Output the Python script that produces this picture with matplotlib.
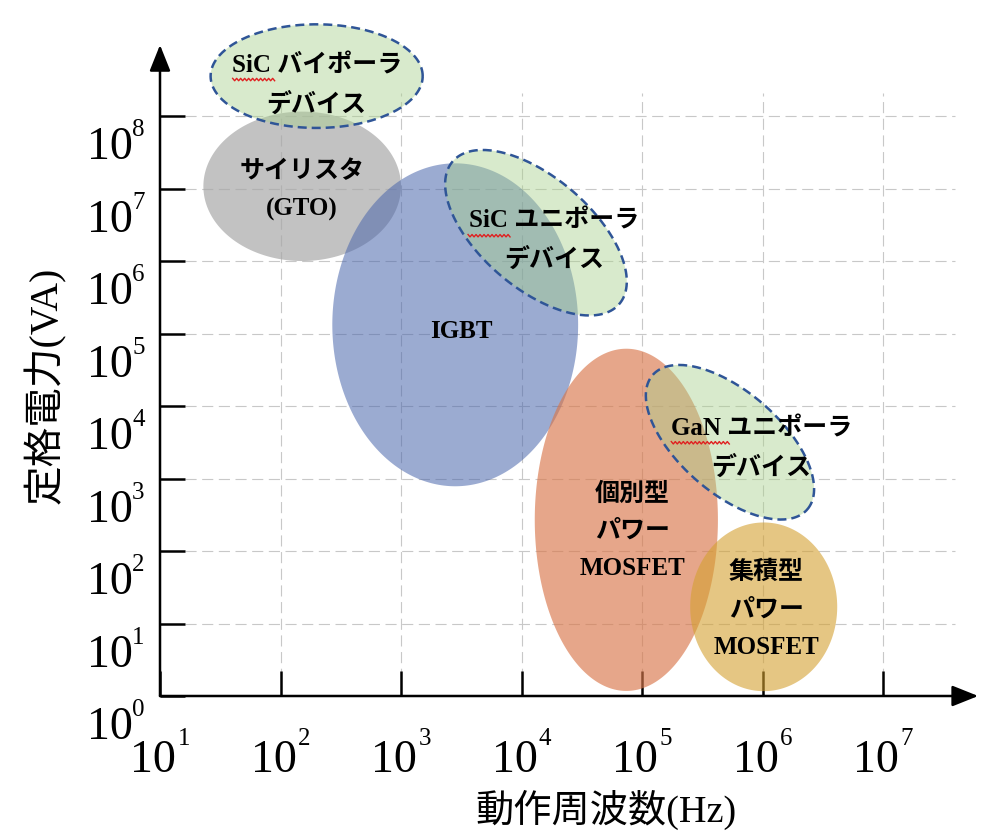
import numpy as np
import matplotlib
matplotlib.use("Agg")
import matplotlib.pyplot as plt
from matplotlib.patches import Polygon
from matplotlib.transforms import IdentityTransform, ScaledTranslation

plt.rcParams['font.family'] = ['Liberation Serif', 'Noto Sans CJK JP', 'DejaVu Sans']

# device regions, all in decades: log10(Hz), log10(VA)
# semi axes a, b are in "x-decade" units so that tilted shapes keep their look
devices = ['gto', 'igbt', 'discrete', 'integrated', 'sic_uni', 'gan_uni', 'sic_bi']
center_f = [2.18, 3.45, 4.87, 6.01, 4.12, 5.73, 2.30]
center_p = [7.03, 5.12, 2.43, 1.23, 6.39, 3.50, 8.55]
semi_a = [0.82, 1.02, 0.76, 0.61, 0.91, 0.85, 0.88]
semi_b = [0.62, 1.34, 1.42, 0.70, 0.46, 0.42, 0.43]
tilt = [0, 0, 0, 0, -40.5, -41, 0]

labels = ['サイリスタ\n(GTO)', 'IGBT', '個別型\nパワー\nMOSFET', '集積型\nパワー\nMOSFET',
          'SiC ユニポーラ\nデバイス', 'GaN ユニポーラ\nデバイス', 'SiC バイポーラ\nデバイス']
label_f = [2.18, 3.50, 4.92, 6.03, 4.27, 5.99, 2.30]
label_p = [6.97, 5.03, 2.27, 1.19, 6.28, 3.41, 8.42]

x_ticks = [1, 2, 3, 4, 5, 6, 7]
y_ticks = [0, 1, 2, 3, 4, 5, 6, 7, 8]

fills = {'gto': ('#a8a8a8', 0.70), 'igbt': ('#4a66ac', 0.55), 'discrete': ('#d9774b', 0.65),
         'integrated': ('#d4a030', 0.60), 'sic_uni': ('#a9d18e', 0.45),
         'gan_uni': ('#a9d18e', 0.45), 'sic_bi': ('#a9d18e', 0.45)}
dashed = {'sic_uni', 'gan_uni', 'sic_bi'}
# spell-check squiggle under "SiC"/"GaN" (dots, relative to label centre)
squiggle = {'sic_bi': (-84, -42, 6), 'sic_uni': (-86, -43, 5), 'gan_uni': (-90, -31, 6)}

fig = plt.figure(figsize=(10, 8.39), dpi=100)
ax = fig.add_axes([0.16, 143 / 839, 831.45 / 1000, 688.75 / 839])
ax.set_xlim(1, 7.9)
ax.set_ylim(0, 9.5)
for s in ax.spines.values():
    s.set_visible(False)

# ratio of pixels per y-decade to pixels per x-decade
pos = ax.get_position()
r = (pos.height * 839 / 9.5) / (pos.width * 1000 / 6.9)

# grid
ax.hlines(y_ticks[1:], 1.207, 7.6, colors='#c8c8c8', lw=0.8,
          linestyles=(0, (10, 5)), zorder=0)
ax.vlines(x_ticks[1:], 0, 8.32, colors='#c8c8c8', lw=0.8,
          linestyles=(0, (10, 5)), zorder=0)

t = np.linspace(0, 2 * np.pi, 300)
for i, d in enumerate(devices):
    th = np.deg2rad(tilt[i])
    u = semi_a[i] * np.cos(t)
    v = semi_b[i] * np.sin(t)
    xs = center_f[i] + u * np.cos(th) - v * np.sin(th)
    ys = center_p[i] + (u * np.sin(th) + v * np.cos(th)) / r
    col, al = fills[d]
    ax.add_patch(Polygon(np.column_stack([xs, ys]), closed=True, facecolor=col,
                         alpha=al, edgecolor='none', zorder=2 + i * 0.1, clip_on=False))
    if d in dashed:
        ax.plot(np.append(xs, xs[0]), np.append(ys, ys[0]), color='#2f5597', lw=1.8,
                linestyle=(0, (3.6, 2)), zorder=3 + i * 0.1, clip_on=False)

for i, lab in enumerate(labels):
    ax.text(label_f[i], label_p[i], lab, ha='center', va='center', multialignment='center',
            fontsize=18, fontweight='bold', linespacing=1.8, zorder=6)
    d = devices[i]
    if d in squiggle:
        x0, x1, dy = squiggle[d]
        sx = np.arange(x0, x1 + 0.1, 2.0)
        sy = dy + np.where(np.arange(len(sx)) % 2 == 0, 1.2, -1.2)
        tr = IdentityTransform() + ScaledTranslation(label_f[i], label_p[i], ax.transData)
        ax.plot(sx, sy, color='#e02020', lw=1.0, transform=tr, zorder=7, clip_on=False)

# axes with arrows
arrow = dict(arrowstyle='-|>,head_length=0.8,head_width=0.32', lw=1.8, color='black',
             mutation_scale=20, shrinkA=0, shrinkB=0)
ax.annotate('', xy=(1, 8.98), xytext=(1, 0), arrowprops=arrow, zorder=7)
ax.annotate('', xy=(7.79, 0), xytext=(1, 0), arrowprops=arrow, zorder=7)

ax.set_xticks(x_ticks)
ax.set_yticks(y_ticks)
ax.set_xticklabels([])
ax.set_yticklabels([])
ax.tick_params(axis='both', direction='in', length=18, width=1.8, color='black')

# tick labels: "10" with a raised exponent
for k in x_ticks:
    ax.annotate('10', xy=(k, 0), xycoords=('data', 'axes fraction'), xytext=(11.5, -55),
                textcoords='offset points', ha='right', va='baseline', fontsize=33)
    ax.annotate(str(k), xy=(k, 0), xycoords=('data', 'axes fraction'), xytext=(12.5, -35.5),
                textcoords='offset points', ha='left', va='baseline', fontsize=18)
for k in y_ticks:
    ax.annotate('10', xy=(0, k), xycoords=('axes fraction', 'data'), xytext=(-19.5, -31),
                textcoords='offset points', ha='right', va='baseline', fontsize=33)
    ax.annotate(str(k), xy=(0, k), xycoords=('axes fraction', 'data'), xytext=(-20, -14.5),
                textcoords='offset points', ha='left', va='baseline', fontsize=18)

fig.text(0.045, 1 - 385 / 839, '定格電力(VA)', rotation=90, ha='center', va='center',
         fontsize=28.5)
fig.text(0.606, 1 - 810 / 839, '動作周波数(Hz)', ha='center', va='center', fontsize=27.5)

fig.savefig('out.png', dpi=100)
